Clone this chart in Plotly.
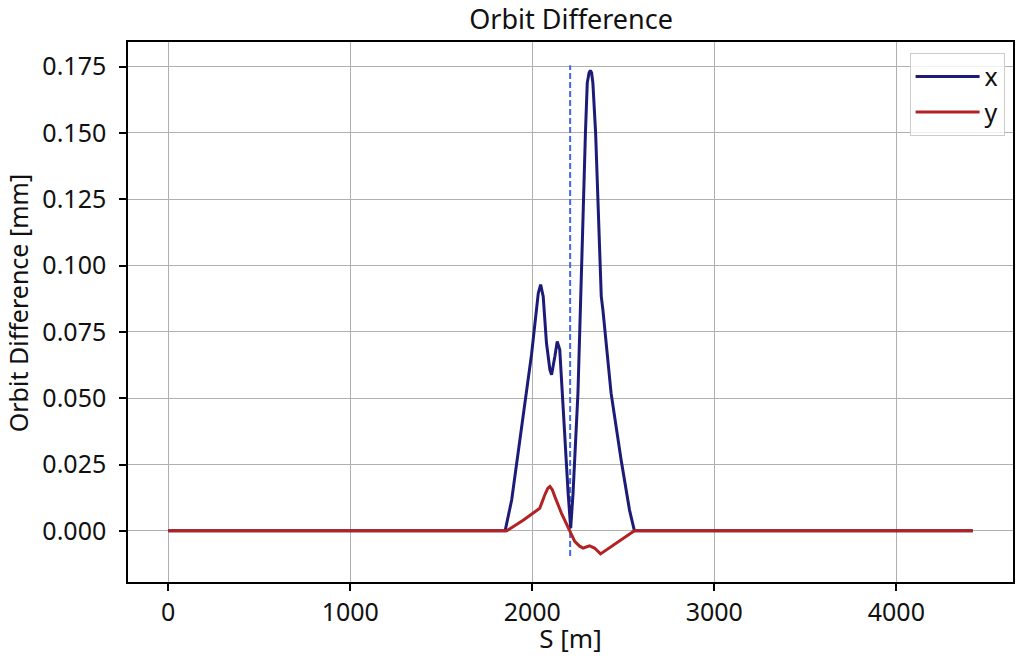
import plotly.graph_objects as go

# Horizontal orbit difference (x)
s_x = [0, 1851, 1887, 1996, 2033, 2046, 2060, 2078, 2097, 2106, 2124, 2137, 2151,
       2169, 2197, 2211, 2224, 2251, 2275, 2279, 2292, 2302, 2312, 2319, 2326, 2333,
       2348, 2365, 2379, 2388, 2433, 2488, 2534, 2561, 4420]
dx = [0, 0, 0.0117, 0.0665, 0.0896, 0.0928, 0.0884, 0.0708, 0.0607, 0.0588, 0.0657,
      0.0714, 0.0683, 0.0456, 0.0142, 0.0010, 0.0142, 0.0520, 0.1020, 0.1185, 0.1500,
      0.1688, 0.1727, 0.1736, 0.1727, 0.1688, 0.1500, 0.1185, 0.0884, 0.0833, 0.0519,
      0.0268, 0.0079, 0, 0]

# Vertical orbit difference (y)
s_y = [0, 1860, 1950, 2041, 2069, 2085, 2097, 2110, 2124, 2160, 2206, 2233, 2260,
       2279, 2300, 2315, 2342, 2375, 2561, 4420]
dy = [0, 0, 0.0040, 0.0085, 0.0136, 0.0160, 0.0167, 0.0155, 0.0129, 0.0067, 0.0,
      -0.0040, -0.0058, -0.0065, -0.0060, -0.0057, -0.0065, -0.0087, 0, 0]

# Marker position (dashed vertical line)
s_mark = 2208
mark_span = [-0.0095, 0.1755]

x_ticks = [0, 1000, 2000, 3000, 4000]
y_ticks = [0.000, 0.025, 0.050, 0.075, 0.100, 0.125, 0.150, 0.175]

font_family = "Noto Sans"

fig = go.Figure()
fig.add_trace(go.Scatter(x=[s_mark, s_mark], y=mark_span, mode="lines",
                         line=dict(color="#4169E1", width=2, dash="6px,3px"),
                         showlegend=False, hoverinfo="skip"))
fig.add_trace(go.Scatter(x=s_x, y=dx, mode="lines", name="x",
                         line=dict(color="#1c1c78", width=3)))
fig.add_trace(go.Scatter(x=s_y, y=dy, mode="lines", name="y",
                         line=dict(color="#B22222", width=3)))

axis_common = dict(showline=True, mirror=True, linecolor="black", linewidth=1.5,
                   ticks="outside", ticklen=7, tickwidth=1.5, tickcolor="black",
                   showgrid=True, gridcolor="#b0b0b0", gridwidth=1.3,
                   zeroline=False, tickfont=dict(size=25, color="#111111", family=font_family))

fig.update_layout(
    width=1017, height=656,
    margin=dict(l=128, r=2, t=42, b=74),
    paper_bgcolor="white", plot_bgcolor="white",
    font=dict(family=font_family, color="#111111"),
    title=dict(text="Orbit Difference", x=0.5615, xanchor="center",
               y=1 - 20 / 656, yanchor="middle", font=dict(size=27, family=font_family)),
    xaxis=dict(range=[-221, 4641], tickvals=x_ticks,
               title=dict(text="S [m]", font=dict(size=26, family=font_family), standoff=4),
               **axis_common),
    yaxis=dict(range=[-0.0193, 0.1843], tickvals=y_ticks, tickformat=".3f",
               ticklabelstandoff=8, **axis_common),
    legend=dict(x=0.9905, xanchor="right", y=0.98, yanchor="top",
                bgcolor="rgba(255,255,255,0.8)", bordercolor="#cccccc", borderwidth=1,
                font=dict(size=25, family=font_family), itemwidth=64, tracegroupgap=0),
    annotations=[dict(text="Orbit Difference [mm]", textangle=-90,
                      xref="paper", yref="paper", x=(18 - 128) / 887, y=(582 - 303) / 540,
                      xanchor="center", yanchor="middle", showarrow=False,
                      font=dict(size=25, family=font_family, color="#111111"))],
)

fig.write_html("out.html")
